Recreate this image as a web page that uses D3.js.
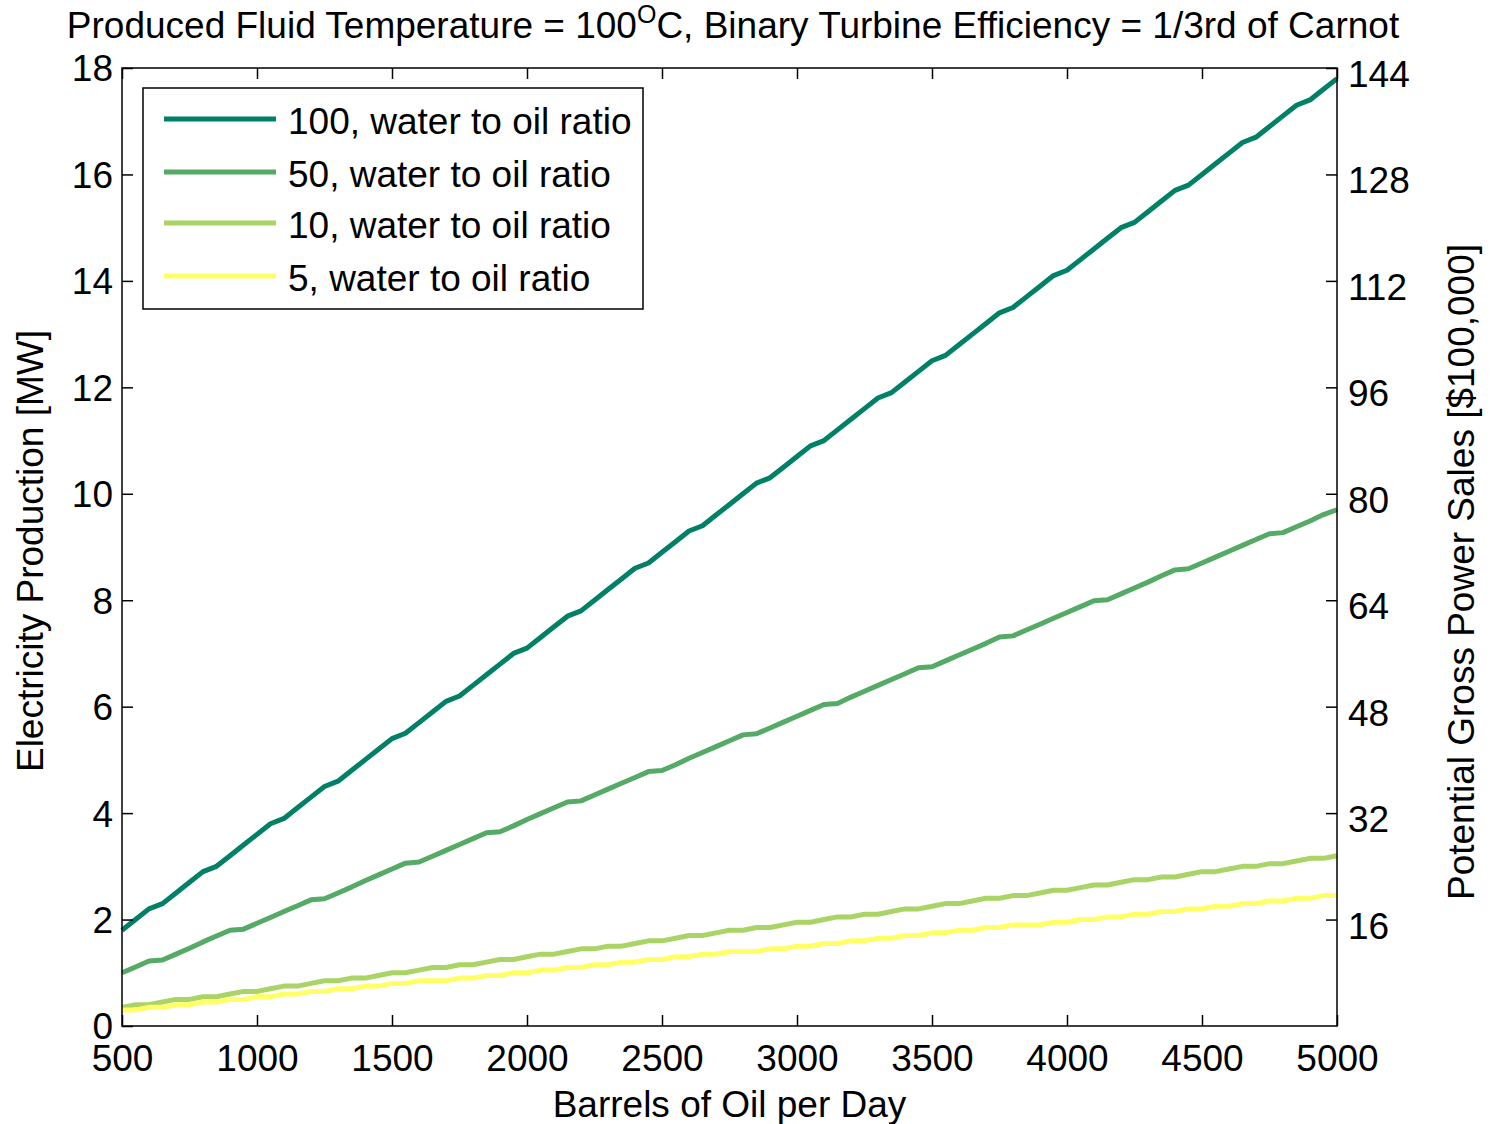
<!DOCTYPE html>
<html>
<head>
<meta charset="utf-8">
<script src="https://cdn.jsdelivr.net/npm/d3@7"></script>
<style>
  body { margin: 0; background: #fff; }
  svg text { font-family: "Liberation Sans", Arial, sans-serif; fill: #000; }
</style>
</head>
<body>
<div id="chart"></div>
<script>
// barrels of oil per day, sampled every 50 bbl
const barrels = d3.range(500, 5001, 50);

const labels = ["100, water to oil ratio", "50, water to oil ratio", "10, water to oil ratio", "5, water to oil ratio"];
const colors = ["#008066", "#55aa66", "#aad466", "#ffff66"];

// Electricity production [MW]
const wor100 = [1.8, 2.0, 2.2, 2.3, 2.5, 2.7, 2.9, 3.0, 3.2, 3.4,
  3.6, 3.8, 3.9, 4.1, 4.3, 4.5, 4.6, 4.8, 5.0, 5.2,
  5.4, 5.5, 5.7, 5.9, 6.1, 6.2, 6.4, 6.6, 6.8, 7.0,
  7.1, 7.3, 7.5, 7.7, 7.8, 8.0, 8.2, 8.4, 8.6, 8.7,
  8.9, 9.1, 9.3, 9.4, 9.6, 9.8, 10.0, 10.2, 10.3, 10.5,
  10.7, 10.9, 11.0, 11.2, 11.4, 11.6, 11.8, 11.9, 12.1, 12.3,
  12.5, 12.6, 12.8, 13.0, 13.2, 13.4, 13.5, 13.7, 13.9, 14.1,
  14.2, 14.4, 14.6, 14.8, 15.0, 15.1, 15.3, 15.5, 15.7, 15.8,
  16.0, 16.2, 16.4, 16.6, 16.7, 16.9, 17.1, 17.3, 17.4, 17.6, 17.8];
const wor50 = [1.00, 1.11, 1.22, 1.24, 1.35, 1.46, 1.58, 1.69, 1.80, 1.82,
  1.93, 2.04, 2.15, 2.26, 2.37, 2.39, 2.50, 2.61, 2.73, 2.84,
  2.95, 3.06, 3.08, 3.19, 3.30, 3.41, 3.52, 3.63, 3.65, 3.76,
  3.88, 3.99, 4.10, 4.21, 4.23, 4.34, 4.45, 4.56, 4.67, 4.78,
  4.80, 4.91, 5.03, 5.14, 5.25, 5.36, 5.47, 5.49, 5.60, 5.71,
  5.82, 5.93, 6.04, 6.06, 6.18, 6.29, 6.40, 6.51, 6.62, 6.73,
  6.75, 6.86, 6.97, 7.08, 7.19, 7.31, 7.33, 7.44, 7.55, 7.66,
  7.77, 7.88, 7.99, 8.01, 8.12, 8.23, 8.34, 8.46, 8.57, 8.59,
  8.70, 8.81, 8.92, 9.03, 9.14, 9.25, 9.27, 9.38, 9.49, 9.61, 9.70];
const wor10 = [0.35, 0.40, 0.40, 0.45, 0.50, 0.50, 0.55, 0.55, 0.60, 0.65,
  0.65, 0.70, 0.75, 0.75, 0.80, 0.85, 0.85, 0.90, 0.90, 0.95,
  1.00, 1.00, 1.05, 1.10, 1.10, 1.15, 1.15, 1.20, 1.25, 1.25,
  1.30, 1.35, 1.35, 1.40, 1.45, 1.45, 1.50, 1.50, 1.55, 1.60,
  1.60, 1.65, 1.70, 1.70, 1.75, 1.80, 1.80, 1.85, 1.85, 1.90,
  1.95, 1.95, 2.00, 2.05, 2.05, 2.10, 2.10, 2.15, 2.20, 2.20,
  2.25, 2.30, 2.30, 2.35, 2.40, 2.40, 2.45, 2.45, 2.50, 2.55,
  2.55, 2.60, 2.65, 2.65, 2.70, 2.75, 2.75, 2.80, 2.80, 2.85,
  2.90, 2.90, 2.95, 3.00, 3.00, 3.05, 3.05, 3.10, 3.15, 3.15, 3.20];
const wor5 = [0.30, 0.30, 0.35, 0.35, 0.40, 0.40, 0.45, 0.45, 0.50, 0.50,
  0.55, 0.55, 0.60, 0.60, 0.65, 0.65, 0.70, 0.70, 0.75, 0.75,
  0.80, 0.80, 0.85, 0.85, 0.85, 0.90, 0.90, 0.95, 0.95, 1.00,
  1.00, 1.05, 1.05, 1.10, 1.10, 1.15, 1.15, 1.20, 1.20, 1.25,
  1.25, 1.30, 1.30, 1.35, 1.35, 1.40, 1.40, 1.40, 1.45, 1.45,
  1.50, 1.50, 1.55, 1.55, 1.60, 1.60, 1.65, 1.65, 1.70, 1.70,
  1.75, 1.75, 1.80, 1.80, 1.85, 1.85, 1.90, 1.90, 1.90, 1.95,
  1.95, 2.00, 2.00, 2.05, 2.05, 2.10, 2.10, 2.15, 2.15, 2.20,
  2.20, 2.25, 2.25, 2.30, 2.30, 2.35, 2.35, 2.40, 2.40, 2.45, 2.45];

const series = [wor100, wor50, wor10, wor5];

const xTicks = [500, 1000, 1500, 2000, 2500, 3000, 3500, 4000, 4500, 5000];
const yTicks = [0, 2, 4, 6, 8, 10, 12, 14, 16, 18];
const y2Ticks = [16, 32, 48, 64, 80, 96, 112, 128, 144];

const width = 1494, height = 1124;
const margin = {top: 68, right: 157, bottom: 98, left: 122};

const svg = d3.select("#chart").append("svg")
    .attr("width", width)
    .attr("height", height);

const x = d3.scaleLinear().domain([500, 5000]).range([margin.left, width - margin.right]);
const y = d3.scaleLinear().domain([0, 18]).range([height - margin.bottom, margin.top]);
const y2 = d3.scaleLinear().domain([0, 144]).range([height - margin.bottom, margin.top]);

const fontSize = 37;
const tickLen = 11;

// lines
const line = d3.line()
    .x((d, i) => x(barrels[i]))
    .y(d => y(d));

svg.append("g")
    .selectAll("path")
    .data(series)
    .enter().append("path")
    .attr("d", line)
    .attr("fill", "none")
    .attr("stroke", (d, i) => colors[i])
    .attr("stroke-width", 5)
    .attr("stroke-linejoin", "round");

// axes, ticks pointing inward
const bottomAxis = svg.append("g")
    .attr("transform", "translate(0," + y.range()[0] + ")")
    .call(d3.axisBottom(x).tickValues(xTicks).tickSize(-tickLen).tickPadding(19).tickFormat(d3.format("d")));
const topAxis = svg.append("g")
    .attr("transform", "translate(0," + margin.top + ")")
    .call(d3.axisTop(x).tickValues(xTicks).tickSize(-tickLen).tickFormat(""));
const leftAxis = svg.append("g")
    .attr("transform", "translate(" + margin.left + ",0)")
    .call(d3.axisLeft(y).tickValues(yTicks).tickSize(-tickLen).tickPadding(9).tickFormat(d3.format("d")));
const rightAxis = svg.append("g")
    .attr("transform", "translate(" + x.range()[1] + ",0)")
    .call(d3.axisRight(y2).tickValues(y2Ticks).tickSize(-tickLen).tickPadding(11).tickFormat(d3.format("d")));

[bottomAxis, topAxis, leftAxis, rightAxis].forEach(g => {
    g.select(".domain").remove();
    g.selectAll(".tick line").attr("stroke", "#000").attr("stroke-width", 1.5);
    g.selectAll(".tick text")
        .style("font-family", '"Liberation Sans", Arial, sans-serif')
        .style("font-size", fontSize + "px")
        .attr("fill", "#000");
});
bottomAxis.selectAll(".tick text").attr("dy", "0.71em");
leftAxis.selectAll(".tick text").attr("dy", "0.35em");
rightAxis.selectAll(".tick text").attr("dy", "0.5em");

// frame
svg.append("rect")
    .attr("x", x.range()[0])
    .attr("y", margin.top)
    .attr("width", x.range()[1] - x.range()[0])
    .attr("height", y.range()[0] - margin.top)
    .attr("fill", "none")
    .attr("stroke", "#000")
    .attr("stroke-width", 1.5);

// title with superscript
const title = svg.append("text")
    .attr("x", 733)
    .attr("y", 38)
    .attr("text-anchor", "middle")
    .style("font-size", "37px");
title.append("tspan").text("Produced Fluid Temperature = 100");
title.append("tspan").attr("dy", -15).style("font-size", "25px").text("O");
title.append("tspan").attr("dy", 15).text("C, Binary Turbine Efficiency = 1/3rd of Carnot");

// axis labels
svg.append("text")
    .attr("x", (x.range()[0] + x.range()[1]) / 2)
    .attr("y", 1117)
    .attr("text-anchor", "middle")
    .style("font-size", fontSize + "px")
    .text("Barrels of Oil per Day");

svg.append("text")
    .attr("transform", "translate(43,551) rotate(-90)")
    .attr("text-anchor", "middle")
    .style("font-size", fontSize + "px")
    .text("Electricity Production [MW]");

svg.append("text")
    .attr("transform", "translate(1474,572) rotate(-90)")
    .attr("text-anchor", "middle")
    .style("font-size", fontSize + "px")
    .text("Potential Gross Power Sales [$100,000]");

// legend
const legend = svg.append("g").attr("transform", "translate(143,88)");
legend.append("rect")
    .attr("width", 500)
    .attr("height", 221)
    .attr("fill", "#fff")
    .attr("stroke", "#000")
    .attr("stroke-width", 1.5);

const rowY = [31, 84, 135, 188];
const items = legend.selectAll("g.item")
    .data(labels)
    .enter().append("g")
    .attr("class", "item")
    .attr("transform", (d, i) => "translate(0," + rowY[i] + ")");
items.append("line")
    .attr("x1", 21).attr("x2", 133)
    .attr("stroke", (d, i) => colors[i])
    .attr("stroke-width", 5);
items.append("text")
    .attr("x", 145)
    .attr("y", 15)
    .style("font-size", "37px")
    .text(d => d);
</script>
</body>
</html>
